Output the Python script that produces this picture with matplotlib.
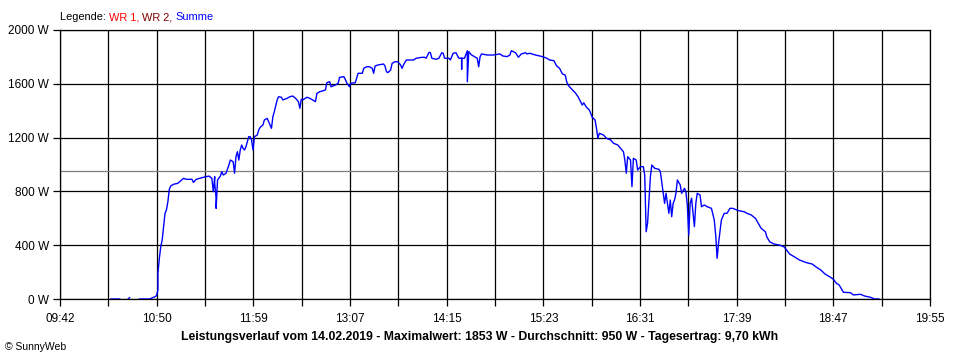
import numpy as np
import matplotlib
matplotlib.use("Agg")
import matplotlib.pyplot as plt

# time of day (HH:MM) and total power "Summe" in W
times = [
    "10:18", "10:24", None,
    "10:30", "10:31", None,
    "10:38", "10:45", "10:49", "10:50", "10:51", "10:51", "10:52", "10:53",
    "10:54", "10:55", "10:56", "10:57", "10:58", "10:59", "11:00", "11:02",
    "11:05", "11:09", "11:11", "11:15", "11:16", "11:18", "11:23", "11:27",
    "11:29", "11:30", "11:31", "11:31", "11:32", "11:32", "11:33", "11:35",
    "11:36", "11:37", "11:39", "11:41", "11:42", "11:44", "11:45", "11:46",
    "11:47", "11:48", "11:49", "11:50", "11:51", "11:52", "11:53", "11:55",
    "11:56", "11:57", "11:58", "11:59", "12:01", "12:02", "12:03", "12:05",
    "12:06", "12:08", "12:10", "12:11", "12:12", "12:13", "12:14", "12:15",
    "12:16", "12:18", "12:19", "12:22", "12:24", "12:26", "12:28", "12:29",
    "12:30", "12:31", "12:32", "12:33", "12:36", "12:38", "12:40", "12:42",
    "12:43", "12:45", "12:49", "12:50", "12:52", "12:53", "12:56", "12:58",
    "12:59", "13:02", "13:03", "13:04", "13:06", "13:07", "13:10", "13:11",
    "13:12", "13:15", "13:16", "13:18", "13:20", "13:22", "13:23", "13:24",
    "13:26", "13:30", "13:31", "13:32", "13:33", "13:35", "13:36", "13:38",
    "13:40", "13:42", "13:43", "13:44", "13:46", "13:49", "13:51", "13:53",
    "13:57", "13:59", "14:00", "14:02", "14:03", "14:04", "14:07", "14:09",
    "14:11", "14:12", "14:13", "14:16", "14:17", "14:19", "14:21", "14:23",
    "14:25", "14:25", "14:25", "14:27", "14:29", "14:29", "14:30", "14:31",
    "14:32", "14:36", "14:37", "14:38", "14:39", "14:43", "14:47", "14:52",
    "14:54", "14:57", "14:59", "15:00", "15:03", "15:05", "15:07", "15:10",
    "15:11", "15:13", "15:17", "15:20", "15:22", "15:25", "15:27", "15:30",
    "15:31", "15:32", "15:34", "15:36", "15:38", "15:39", "15:40", "15:42",
    "15:45", "15:47", "15:50", "15:51", "15:53", "15:55", "15:57", "15:59",
    "16:00", "16:01", "16:02", "16:05", "16:07", "16:10", "16:12", "16:15",
    "16:17", "16:19", "16:20", "16:21", "16:22", "16:24", "16:25", "16:26",
    "16:28", "16:29", "16:31", "16:33", "16:34", "16:35", "16:36", "16:37",
    "16:38", "16:39", "16:41", "16:44", "16:45", "16:47", "16:48", "16:49",
    "16:51", "16:52", "16:53", "16:54", "16:55", "16:56", "16:57", "16:59",
    "17:00", "17:02", "17:03", "17:04", "17:05", "17:06", "17:07", "17:09",
    "17:10", "17:11", "17:13", "17:14", "17:16", "17:18", "17:21", "17:23",
    "17:24", "17:25", "17:26", "17:28", "17:30", "17:32", "17:34", "17:36",
    "17:40", "17:44", "17:46", "17:49", "17:52", "17:54", "17:56", "17:59",
    "18:00", "18:02", "18:05", "18:09", "18:12", "18:14", "18:16", "18:20",
    "18:23", "18:28", "18:32", "18:35", "18:38", "18:41", "18:45", "18:47",
    "18:49", "18:51", "18:53", "18:54", "18:59", "19:01", "19:06", "19:09",
    "19:13", "19:16", "19:19",
]
summe = [
    0, 0, None,
    0, 10, None,
    0, 0, 17, 25, 67, 191, 303, 389,
    439, 538, 637, 662, 723, 815, 840, 853,
    860, 897, 890, 890, 867, 890, 905, 914,
    897, 798, 909, 860, 749, 674, 885, 914,
    947, 922, 935, 996, 1033, 1021, 935, 1058,
    1095, 1033, 1108, 1145, 1120, 1108, 1132, 1207,
    1207, 1182, 1108, 1207, 1219, 1256, 1276, 1294,
    1331, 1343, 1294, 1269, 1355, 1393, 1435, 1480,
    1504, 1500, 1480, 1492, 1504, 1509, 1492, 1480,
    1467, 1418, 1485, 1480, 1500, 1492, 1480, 1467,
    1529, 1541, 1554, 1608, 1616, 1578, 1591, 1604,
    1648, 1653, 1633, 1608, 1578, 1604, 1608, 1641,
    1678, 1678, 1715, 1727, 1727, 1715, 1678, 1732,
    1740, 1747, 1732, 1690, 1683, 1703, 1752, 1764,
    1764, 1740, 1715, 1740, 1777, 1777, 1777, 1790,
    1797, 1797, 1790, 1834, 1831, 1790, 1782, 1790,
    1831, 1827, 1790, 1790, 1777, 1827, 1831, 1790,
    1790, 1708, 1790, 1790, 1846, 1616, 1839, 1827,
    1814, 1790, 1727, 1802, 1822, 1814, 1814, 1822,
    1807, 1802, 1814, 1846, 1831, 1797, 1822, 1831,
    1822, 1827, 1814, 1807, 1802, 1790, 1777, 1772,
    1752, 1732, 1715, 1673, 1665, 1616, 1591, 1566,
    1534, 1504, 1442, 1459, 1425, 1405, 1351, 1331,
    1269, 1195, 1232, 1219, 1195, 1182, 1158, 1145,
    1120, 1095, 1033, 935, 1058, 1033, 835, 1046,
    1033, 959, 984, 984, 922, 500, 563, 736,
    909, 996, 972, 964, 947, 786, 711, 786,
    637, 736, 612, 711, 736, 786, 885, 848,
    786, 823, 798, 699, 476, 711, 749, 538,
    711, 786, 773, 686, 699, 686, 674, 587,
    476, 303, 414, 587, 637, 637, 674, 674,
    657, 649, 637, 625, 600, 563, 526, 500,
    463, 426, 409, 401, 389, 364, 335, 310,
    290, 270, 260, 236, 216, 186, 161, 146,
    117, 104, 67, 50, 47, 30, 35, 22,
    13, 0, 0,
]

x_labels = ["09:42", "10:50", "11:59", "13:07", "14:15",
            "15:23", "16:31", "17:39", "18:47", "19:55"]
y_ticks = [0, 400, 800, 1200, 1600, 2000]
average = 950
title = ("Leistungsverlauf vom 14.02.2019 - Maximalwert: 1853 W - "
         "Durchschnitt: 950 W - Tagesertrag: 9,70 kWh")
legend_parts = [("Legende: ", "black"), ("WR 1, ", "#ff0000"),
                ("WR 2, ", "#800000"), ("Summe", "#0000ff")]


def to_min(s):
    if s is None:
        return np.nan
    h, m = s.split(":")
    return int(h) * 60 + int(m)


t = np.array([to_min(s) for s in times], dtype=float)
p = np.array([np.nan if v is None else v for v in summe], dtype=float)

t_start = to_min(x_labels[0])
t_end = to_min(x_labels[-1])

plt.rcParams['font.family'] = ['Liberation Sans', 'DejaVu Sans']

fig = plt.figure(figsize=(9.6, 3.6), dpi=100)
ax = fig.add_axes([60 / 960, 61 / 360, 870 / 960, 269 / 360])

major = np.linspace(t_start, t_end, len(x_labels))
minor = np.linspace(t_start, t_end, 2 * len(x_labels) - 1)
for xv in minor:
    ax.axvline(xv, color="black", lw=0.9, zorder=1)
for yv in y_ticks:
    ax.axhline(yv, color="black", lw=0.9, zorder=1)
ax.axhline(average, color="#808080", lw=0.9, zorder=2)

ax.plot(t, p, color="#0000ff", lw=1.0, zorder=3)

ax.set_xlim(t_start, t_end)
ax.set_ylim(0, 2000)
ax.set_xticks(minor, minor=True)
ax.set_xticks(major)
ax.set_xticklabels(x_labels)
ax.set_yticks(y_ticks)
ax.set_yticklabels([f"{v} W" for v in y_ticks])
ax.tick_params(axis="both", which="both", direction="out", length=5,
               width=0.9, color="black", labelsize=8.5)
ax.tick_params(axis="x", pad=5)
ax.tick_params(axis="y", pad=3)
for s in ax.spines.values():
    s.set_linewidth(0.9)

# legend line above the plot, one coloured piece after another
x0 = 60
for label, col in legend_parts:
    txt = fig.text(x0 / 960, 1 - 17 / 360, label, fontsize=7.9,
                   color=col, va="center")
    fig.canvas.draw()
    x0 = txt.get_window_extent().x1

fig.text(480 / 960, 1 - 337 / 360, title, fontsize=8.8,
         fontweight="bold", ha="center", va="center")
fig.text(5 / 960, 1 - 347 / 360, "\u00a9 SunnyWeb", fontsize=7.5,
         va="center")

fig.savefig("out.png", dpi=100)
